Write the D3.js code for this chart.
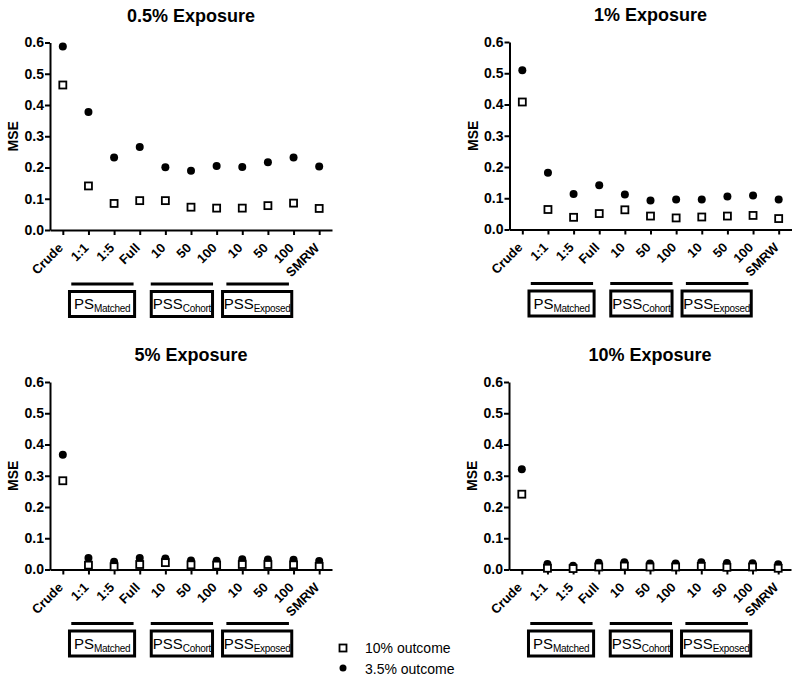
<!DOCTYPE html>
<html>
<head>
<meta charset="utf-8">
<script src="https://cdn.jsdelivr.net/npm/d3@7"></script>
<style>
  html, body { margin: 0; padding: 0; background: #fff; }
  svg { display: block; font-family: "Liberation Sans", Arial, sans-serif; }
</style>
</head>
<body>
<svg id="chart" width="800" height="681"></svg>
<script>
// ---- data ----
const categories = ["Crude", "1:1", "1:5", "Full", "10", "50", "100", "10", "50", "100", "SMRW"];
const yTicks = [0.0, 0.1, 0.2, 0.3, 0.4, 0.5, 0.6];
const panelTitles = ["0.5% Exposure", "1% Exposure", "5% Exposure", "10% Exposure"];
const seriesNames = ["10% outcome", "3.5% outcome"];

// 10% outcome (open squares)
const outcome10_exp05 = [0.464, 0.141, 0.085, 0.094, 0.094, 0.073, 0.070, 0.070, 0.078, 0.086, 0.069];
const outcome10_exp1  = [0.408, 0.064, 0.039, 0.051, 0.063, 0.043, 0.037, 0.040, 0.043, 0.045, 0.035];
const outcome10_exp5  = [0.284, 0.014, 0.009, 0.016, 0.022, 0.015, 0.014, 0.016, 0.016, 0.015, 0.010];
const outcome10_exp10 = [0.241, 0.004, 0.003, 0.008, 0.011, 0.008, 0.008, 0.010, 0.007, 0.008, 0.004];

// 3.5% outcome (filled circles)
const outcome35_exp05 = [0.587, 0.378, 0.232, 0.266, 0.201, 0.190, 0.205, 0.202, 0.217, 0.232, 0.203];
const outcome35_exp1  = [0.510, 0.182, 0.114, 0.142, 0.112, 0.093, 0.096, 0.096, 0.106, 0.109, 0.096];
const outcome35_exp5  = [0.367, 0.037, 0.025, 0.037, 0.035, 0.029, 0.028, 0.033, 0.032, 0.031, 0.027];
const outcome35_exp10 = [0.321, 0.018, 0.012, 0.022, 0.023, 0.019, 0.019, 0.023, 0.021, 0.020, 0.017];

// group annotations (main label, subscript, span in category-index units)
const groupMain  = ["PS", "PSS", "PSS"];
const groupSub   = ["Matched", "Cohort", "Exposed"];
const groupBarStart = [0.33, 3.43, 6.38];
const groupBarEnd   = [2.76, 5.86, 8.82];
const groupBoxStart = [0.26, 3.45, 6.23];
const groupBoxEnd   = [2.80, 5.84, 8.93];

// ---- layout ----
const panels = [
  { ox: 50,    oy: 230,   title: panelTitles[0], sq: outcome10_exp05, ci: outcome35_exp05 },
  { ox: 509.5, oy: 229.5, title: panelTitles[1], sq: outcome10_exp1,  ci: outcome35_exp1 },
  { ox: 50,    oy: 569.5, title: panelTitles[2], sq: outcome10_exp5,  ci: outcome35_exp5 },
  { ox: 509,   oy: 569.5, title: panelTitles[3], sq: outcome10_exp10, ci: outcome35_exp10 }
];
const W = 282, H = 187.5;

const svg = d3.select("#chart");

panels.forEach(p => {
  const g = svg.append("g").attr("transform", `translate(${p.ox},${p.oy - H})`);
  const idx = d3.range(categories.length);
  const x = d3.scalePoint().domain(idx).range([0, W]).padding(0.5);
  const xl = d3.scaleLinear().domain([0, categories.length - 1]).range([x(0), x(categories.length - 1)]);
  const y = d3.scaleLinear().domain([0, 0.6]).range([H, 0]);

  // title
  g.append("text")
    .attr("x", W / 2).attr("y", -21)
    .attr("text-anchor", "middle")
    .style("font-size", "18px").style("font-weight", "bold")
    .text(p.title);

  // y axis
  const ya = g.append("g")
    .call(d3.axisLeft(y).tickValues(yTicks).tickFormat(d3.format(".1f")).tickSize(5).tickSizeOuter(0).tickPadding(1));
  ya.selectAll("path, line").attr("stroke", "#000").attr("stroke-width", 2);
  ya.selectAll("text").style("font-size", "14px").style("font-weight", "bold").attr("fill", "#000")
    .style("font-family", "'Liberation Sans', Arial, sans-serif");

  // y label
  g.append("text")
    .attr("transform", `translate(-32,${H / 2}) rotate(-90)`)
    .attr("text-anchor", "middle")
    .style("font-size", "14px").style("font-weight", "bold")
    .text("MSE");

  // x axis
  const xa = g.append("g").attr("transform", `translate(0,${H})`)
    .call(d3.axisBottom(x).tickFormat(i => categories[i]).tickSize(5).tickSizeOuter(0));
  xa.selectAll("path, line").attr("stroke", "#000").attr("stroke-width", 2);
  xa.selectAll("text")
    .attr("x", 0).attr("y", 0).attr("dy", "0.35em")
    .attr("transform", "translate(-2.7,15.5) rotate(-45)")
    .style("text-anchor", "end")
    .style("font-size", "13px").style("font-weight", "bold").attr("fill", "#000")
    .style("font-family", "'Liberation Sans', Arial, sans-serif");

  // circles (3.5% outcome)
  g.append("g").selectAll("circle").data(p.ci).join("circle")
    .attr("cx", (d, i) => x(i)).attr("cy", d => y(d)).attr("r", 4).attr("fill", "#000");

  // squares (10% outcome)
  const s = 7;
  g.append("g").selectAll("rect").data(p.sq).join("rect")
    .attr("x", (d, i) => x(i) - s / 2).attr("y", d => y(d) - s / 2)
    .attr("width", s).attr("height", s)
    .attr("fill", "#fff").attr("stroke", "#000").attr("stroke-width", 1.8);

  // group annotations
  groupMain.forEach((m, k) => {
    g.append("line")
      .attr("x1", xl(groupBarStart[k])).attr("x2", xl(groupBarEnd[k]))
      .attr("y1", H + 54).attr("y2", H + 54)
      .attr("stroke", "#000").attr("stroke-width", 3);
    const bx0 = xl(groupBoxStart[k]), bx1 = xl(groupBoxEnd[k]);
    g.append("rect")
      .attr("x", bx0).attr("y", H + 61.5)
      .attr("width", bx1 - bx0).attr("height", 25)
      .attr("fill", "#fff").attr("stroke", "#000").attr("stroke-width", 3);
    const t = g.append("text")
      .attr("x", (bx0 + bx1) / 2).attr("y", H + 79)
      .attr("text-anchor", "middle")
      .style("font-size", "15px");
    t.append("tspan").text(m);
    t.append("tspan").attr("dy", 3).style("font-size", "10px").style("letter-spacing", "-0.3px").text(groupSub[k]);
  });
});

// legend
const lg = svg.append("g");
lg.append("rect").attr("x", 339.5).attr("y", 644.5).attr("width", 7).attr("height", 7)
  .attr("fill", "#fff").attr("stroke", "#000").attr("stroke-width", 1.8);
lg.append("circle").attr("cx", 343).attr("cy", 668).attr("r", 3.5).attr("fill", "#000");
lg.append("text").attr("x", 365).attr("y", 653).style("font-size", "14px").text(seriesNames[0]);
lg.append("text").attr("x", 365).attr("y", 674).style("font-size", "14px").text(seriesNames[1]);
</script>
</body>
</html>
